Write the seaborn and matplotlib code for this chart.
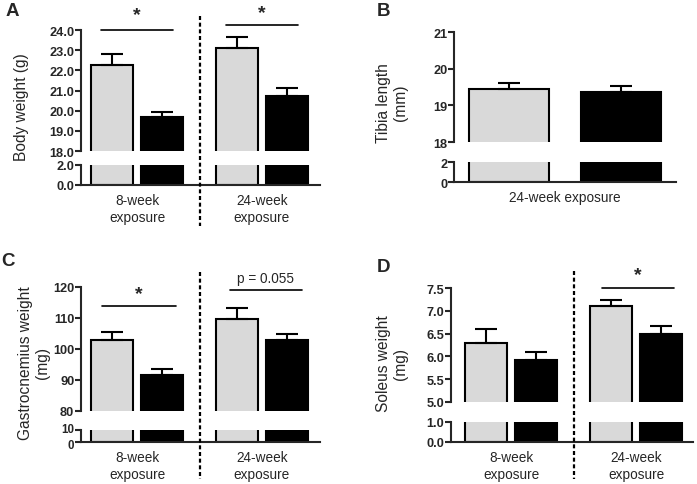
import numpy as np
import pandas as pd
import matplotlib
matplotlib.use("Agg")
import matplotlib.pyplot as plt
import seaborn as sns
from matplotlib.transforms import blended_transform_factory, ScaledTranslation
from matplotlib.lines import Line2D

# ---------------- data ----------------
treatments = ["Control", "Exposed"]
groups_two = ["8-week\nexposure", "24-week\nexposure"]
groups_one = ["24-week exposure"]

body_ctrl = [22.27, 23.13]
body_exp = [19.67, 20.73]
body_ctrl_err = [0.56, 0.52]
body_exp_err = [0.25, 0.37]

tibia_ctrl = [19.45]
tibia_exp = [19.36]
tibia_ctrl_err = [0.16]
tibia_exp_err = [0.16]

gastro_ctrl = [102.8, 109.8]
gastro_exp = [91.7, 102.8]
gastro_ctrl_err = [2.6, 3.3]
gastro_exp_err = [1.7, 2.1]

soleus_ctrl = [6.29, 7.10]
soleus_exp = [5.92, 6.49]
soleus_ctrl_err = [0.32, 0.14]
soleus_exp_err = [0.17, 0.17]

LIGHT = "#d9d9d9"
DARK = "#000000"

sns.set_style("ticks")
plt.rcParams["font.family"] = ["Liberation Sans", "DejaVu Sans"]

W, H = 697, 485
fig = plt.figure(figsize=(W / 100, H / 100), dpi=100)


def px_rect(x0, x1, ytop, ybot):
    return [x0 / W, 1 - ybot / H, (x1 - x0) / W, (ybot - ytop) / H]


def make_df(groups, ctrl, exp):
    rows = []
    for g, v in zip(groups, ctrl):
        rows.append({"group": g, "treatment": treatments[0], "value": v})
    for g, v in zip(groups, exp):
        rows.append({"group": g, "treatment": treatments[1], "value": v})
    return pd.DataFrame(rows)


def style_ticks(ax, ticks, fmt, size=9.2):
    ax.set_yticks(ticks)
    ax.set_yticklabels([fmt % t for t in ticks], fontsize=size, fontweight="bold")
    ax.tick_params(axis="y", direction="out", length=4, width=1.5, pad=0.8)


def panel(x0, x1, up_top, up_bot, lo_top, lo_bot, groups, ctrl, exp, cerr, eerr,
          up_lim, up_ticks, lo_lim, lo_ticks, fmt, xlim, gap, lo_size=9.2):
    df = make_df(groups, ctrl, exp)
    axu = fig.add_axes(px_rect(x0, x1, up_top, up_bot))
    axl = fig.add_axes(px_rect(x0, x1, lo_top, lo_bot))
    for ax in (axu, axl):
        sns.barplot(data=df, x="group", y="value", hue="treatment",
                    hue_order=treatments, order=groups,
                    palette={treatments[0]: LIGHT, treatments[1]: DARK},
                    edgecolor="black", linewidth=1.5, errorbar=None,
                    width=0.8, gap=gap, legend=False, ax=ax)
        ax.set_xlim(*xlim)
        ax.set_xlabel("")
        ax.set_ylabel("")
        for s in ax.spines.values():
            s.set_linewidth(1.5)
        ax.spines["top"].set_visible(False)
        ax.spines["right"].set_visible(False)
    # error bars (upper only, upward)
    for cont, errs in zip(axu.containers, [cerr, eerr]):
        for patch, e in zip(cont.patches, errs):
            xc = patch.get_x() + patch.get_width() / 2
            top = patch.get_y() + patch.get_height()
            axu.errorbar(xc, top, yerr=[[0], [e]], fmt="none", ecolor="black",
                         elinewidth=1.5, capsize=8, capthick=1.5, zorder=1)
    axu.set_ylim(*up_lim)
    axl.set_ylim(*lo_lim)
    axu.spines["bottom"].set_visible(False)
    axu.tick_params(axis="x", bottom=False, labelbottom=False)
    style_ticks(axu, up_ticks, fmt)
    style_ticks(axl, lo_ticks, fmt, lo_size)
    axl.tick_params(axis="x", length=0, pad=6, labelsize=9.8)
    return axu, axl


def dashed(ax, xval, ytop, ybot):
    tr = blended_transform_factory(ax.transData, fig.transFigure)
    fig.add_artist(Line2D([xval, xval], [1 - ytop / H, 1 - ybot / H], transform=tr,
                          color="black", lw=1.6, linestyle=(0, (1.8, 1.2))))


def sig(ax, x0, x1, y, text, ty, size=14, weight="bold"):
    ax.plot([x0, x1], [y, y], color="black", lw=1.2, clip_on=False)
    ax.text((x0 + x1) / 2, ty, text, ha="center", va="center", fontsize=size,
            fontweight=weight, clip_on=False)


# ---------------- Panel A ----------------
aU, aL = panel(81, 320, 31, 152, 166, 186, groups_two, body_ctrl, body_exp,
               body_ctrl_err, body_exp_err, (18, 24), np.arange(18, 24.01, 1.0),
               (0, 2), [0.0, 2.0], "%.1f", (-0.448, 1.464), 0.15)
dashed(aU, 0.5, 17, 227)
sig(aU, -0.29, 0.29, 24.0, "*", 24.78)
sig(aU, 0.71, 1.29, 24.25, "*", 24.85)
fig.text(22 / W, 1 - 107 / H, "Body weight (g)", rotation=90, ha="center",
         va="center", fontsize=11.2)
fig.text(12 / W, 1 - 12 / H, "A", ha="center", va="center", fontsize=13.5,
         fontweight="bold")

# ---------------- Panel B ----------------
bU, bL = panel(454, 676, 33, 143, 163, 183, groups_one, tibia_ctrl, tibia_exp,
               tibia_ctrl_err, tibia_exp_err, (18, 21), [18, 19, 20, 21],
               (0, 2), [0, 2], "%d", (-0.396, 0.396), 0.28)
fig.text(392 / W, 1 - 103 / H, "Tibia length\n(mm)", rotation=90, ha="center",
         va="center", fontsize=11.2, linespacing=1.1, multialignment="center")
fig.text(384 / W, 1 - 11 / H, "B", ha="center", va="center", fontsize=13.5,
         fontweight="bold")

# ---------------- Panel C ----------------
cU, cL = panel(81, 320, 288, 412, 431, 443, groups_two, gastro_ctrl, gastro_exp,
               gastro_ctrl_err, gastro_exp_err, (80, 120), [80, 90, 100, 110, 120],
               (0, 10), [0, 10], "%d", (-0.448, 1.464), 0.15, lo_size=8.3)
# nudge the two crowded lower labels apart slightly
_labs = cL.get_yticklabels()
_labs[0].set_transform(_labs[0].get_transform() + ScaledTranslation(0, -0.02, fig.dpi_scale_trans))
_labs[1].set_transform(_labs[1].get_transform() + ScaledTranslation(0, 0.02, fig.dpi_scale_trans))
dashed(cU, 0.5, 273, 480)
sig(cU, -0.28, 0.31, 113.9, "*", 118.0)
sig(cU, 0.74, 1.32, 119.0, "p = 0.055", 122.9, size=9.8, weight="normal")
fig.text(34 / W, 1 - 363 / H, "Gastrocnemius weight\n(mg)", rotation=90,
         ha="center", va="center", fontsize=11.2, linespacing=1.1,
         multialignment="center")
fig.text(8 / W, 1 - 262 / H, "C", ha="center", va="center", fontsize=13.5,
         fontweight="bold")

# ---------------- Panel D ----------------
dU, dL = panel(451, 693, 289, 403, 423, 443, groups_two, soleus_ctrl, soleus_exp,
               soleus_ctrl_err, soleus_exp_err, (5.0, 7.5),
               [5.0, 5.5, 6.0, 6.5, 7.0, 7.5], (0, 1), [0.0, 1.0], "%.1f",
               (-0.48, 1.456), 0.15)
dashed(dU, 0.5, 272, 480)
sig(dU, 0.73, 1.30, 7.5, "*", 7.8)
fig.text(392 / W, 1 - 364 / H, "Soleus weight\n(mg)", rotation=90, ha="center",
         va="center", fontsize=11.2, linespacing=1.1, multialignment="center")
fig.text(384 / W, 1 - 267 / H, "D", ha="center", va="center", fontsize=13.5,
         fontweight="bold")

fig.savefig("out.png", dpi=100)
